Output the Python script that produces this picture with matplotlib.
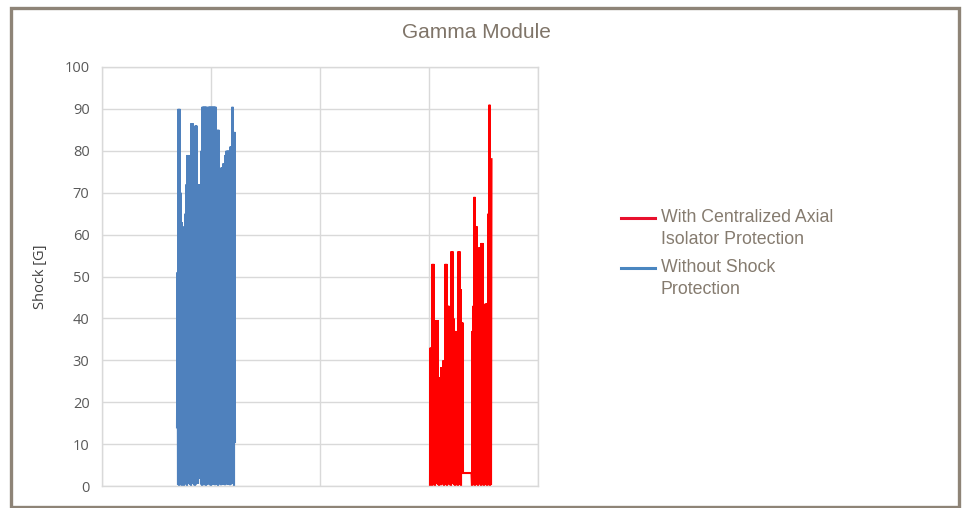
import numpy as np
import matplotlib
matplotlib.use("Agg")
import matplotlib.pyplot as plt
from matplotlib.lines import Line2D
from matplotlib.patches import Rectangle

# ---- data -------------------------------------------------------------
title = "Gamma Module"
y_label = "Shock [G]"
y_ticks = [0, 10, 20, 30, 40, 50, 60, 70, 80, 90, 100]
n_samples = 872          # length of the recorded time axis (samples)
grid_step = 218          # vertical grid spacing (samples)

series_labels = ["With Centralized Axial\nIsolator Protection",
                 "Without Shock\nProtection"]
series_colors = ["#FF0000", "#4F81BD"]
legend_colors = ["#E8112D", "#4A86C0"]

# Without shock protection: alternating peak / trough readings [G]
blue_start = 150
blue_peaks = [51, 90, 90, 70, 63, 62, 48, 55, 65, 72, 79, 79, 69, 72, 86.6,
              86.6, 70, 70, 86, 86, 70, 72, 72, 72, 80, 90.5, 90.5, 90.5,
              90.5, 90.5, 89.5, 90.5, 90.5, 90.5, 90.5, 90.5, 90.5, 90.5,
              90.5, 74, 85, 85, 74, 75, 76, 76, 77, 77, 79, 80, 80, 80, 80,
              81, 81, 90.5, 84.5, 84.5]
blue_troughs = [14, 0.3, 0, 1.2, 0.2, 0, 0.8, 0, 1.5, 0.4, 0, 0.6, 1.8, 0.3,
                0, 0.5, 1.2, 0.2, 0, 0.4, 1.0, 0.6, 2.0, 1.8, 0.4, 0, 0.3,
                0.2, 0.5, 0, 0.3, 0.6, 0.4, 0.2, 0, 0.5, 0.3, 0.4, 0.2, 0.6,
                0.3, 0, 0.5, 0.4, 0.2, 0.6, 0.3, 0.5, 0.2, 0.4, 1.0, 0.3,
                0.6, 0.2, 0.4, 1.2, 0.5, 0]
blue_end = [10.5]

# With centralized axial isolator protection [G]
red_start = 656
red_left_peaks = [33, 33, 53, 53, 36, 36, 39.6, 39.6, 21, 26, 26, 28.4, 28.4,
                  30, 30, 53, 53, 43, 43, 31, 31, 56, 56, 40, 37, 37, 31, 31,
                  56, 56, 47, 39, 39]
red_left_troughs = [0, 0.4, 0, 0.8, 0.2, 0, 0.5, 1.2, 0.3, 0, 0.6, 0.2, 1.0,
                    0.4, 0, 0.8, 0.3, 0, 1.5, 0.4, 0.2, 0, 0.6, 1.8, 0.3, 0,
                    0.5, 0.2, 0, 0.4, 0.3, 0, 3.1]
red_gap = [3.1, 3.1, 3.1, 3.1, 3.1, 3.1, 3.1, 3.1, 3.1, 3.1, 3.1, 3.1, 3.1,
           3.1, 3.1, 3.1, 3.1, 3.1]
red_right_peaks = [37, 43, 69, 62, 62, 30, 30, 57, 57, 58, 58, 43, 43, 43.5,
                   43.5, 43.5, 65, 91, 78, 78]
red_right_troughs = [0, 0.5, 0.2, 0, 0.8, 0.3, 0, 1.2, 0.4, 0, 0.6, 0.2, 0,
                     0.5, 0.3, 0, 0.4, 0.2, 0, 0.3]


def interleave(troughs, peaks):
    out = np.empty(len(peaks) * 2)
    out[0::2] = troughs
    out[1::2] = peaks
    return out


blue_y = np.concatenate([interleave(blue_troughs, blue_peaks), blue_end])
blue_x = blue_start + np.arange(len(blue_y))

red_y = np.concatenate([interleave(red_left_troughs, red_left_peaks),
                        red_gap,
                        interleave(red_right_troughs, red_right_peaks)])
red_x = red_start + np.arange(len(red_y))

# ---- figure -----------------------------------------------------------
fig = plt.figure(figsize=(9.64, 5.08), dpi=100)
ax = fig.add_axes([102 / 964, 1 - 486 / 508, 436 / 964, 419 / 508])

grid_c = "#D9D9D9"
ax.plot(blue_x, blue_y, color=series_colors[1], lw=1.5, solid_joinstyle="miter")
ax.plot(red_x, red_y, color=series_colors[0], lw=1.5, solid_joinstyle="miter")

ax.set_xlim(0, n_samples)
ax.set_ylim(0, 100)
ax.set_xticks(np.arange(0, n_samples + 1, grid_step))
ax.set_xticklabels([])
ax.set_yticks(y_ticks)
ax.grid(True, color=grid_c, lw=1.0)
ax.set_axisbelow(True)
for s in ax.spines.values():
    s.set_color(grid_c)
    s.set_linewidth(1.0)
ax.tick_params(axis="both", length=0)
ax.tick_params(axis="y", pad=9, labelsize=10.5, labelcolor="#595959")
for lbl in ax.get_yticklabels():
    lbl.set_fontfamily("Open Sans")

ax.set_ylabel(y_label, fontsize=10.5, color="#404040", fontfamily="Open Sans")
ax.yaxis.set_label_coords(-0.124, 0.5)

text_c = "#7F7468"
fig.text(476 / 964, 1 - 33 / 508, title, ha="center", va="center",
         fontsize=15, color=text_c, fontfamily="Liberation Sans")

# legend, drawn beside the plot area
leg_rows = [218, 268]
for lbl, col, yy in zip(series_labels, legend_colors, leg_rows):
    fy = 1 - yy / 508
    fig.add_artist(Line2D([621 / 964, 655 / 964], [fy, fy], color=col, lw=2.2))
    fig.text(661 / 964, fy + 9 / 508, lbl, ha="left", va="top", fontsize=12.8,
             color="#857B6F", fontfamily="Liberation Sans", linespacing=1.42)

# outer frame
fig.add_artist(Rectangle((10.5 / 964, 1.5 / 508), 948 / 964, 499 / 508,
                         transform=fig.transFigure, fill=False,
                         edgecolor="#8E8477", lw=2.4))

fig.savefig("out.png", dpi=100)
